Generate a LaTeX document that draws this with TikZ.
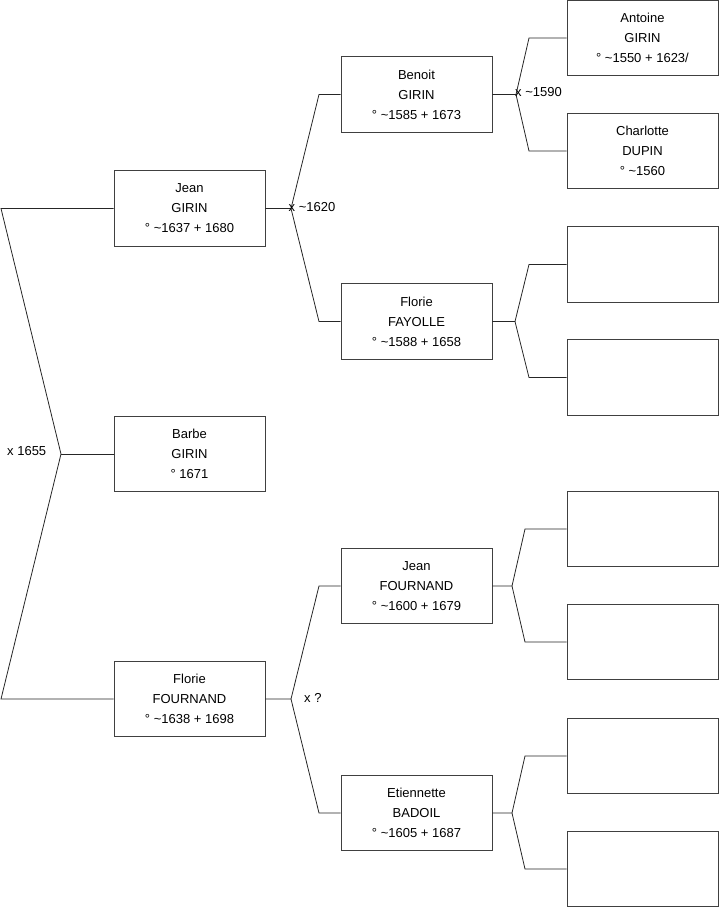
\documentclass[tikz,border=0pt]{standalone}
\usepackage{fontspec}
\setmainfont{Liberation Sans}
\begin{document}
\begin{tikzpicture}[x=1pt,y=-1pt,
  box/.style={draw=black!75,line width=0.8pt,fill=white,minimum width=151pt,minimum height=75.5pt,inner sep=0pt,align=center,font=\fontsize{13}{20}\selectfont},
  conn/.style={draw=black!85,line width=0.8pt},
  lbl/.style={anchor=west,inner sep=0pt,font=\fontsize{13}{15}\selectfont}]
\useasboundingbox (0,0) rectangle (719,908);
% column 1
\node[box] (jg) at (189.5,208.5) {Jean\\GIRIN\\° \textasciitilde1637 + 1680};
\node[box] (bg) at (189.5,454) {Barbe\\GIRIN\\° 1671};
\node[box] (ff) at (189.5,699) {Florie\\FOURNAND\\° \textasciitilde1638 + 1698};
% column 2
\node[box] (be) at (416.5,94.5) {Benoit\\GIRIN\\° \textasciitilde1585 + 1673};
\node[box] (fy) at (416.5,321.5) {Florie\\FAYOLLE\\° \textasciitilde1588 + 1658};
\node[box] (jf) at (416.5,586) {Jean\\FOURNAND\\° \textasciitilde1600 + 1679};
\node[box] (eb) at (416.5,813) {Etiennette\\BADOIL\\° \textasciitilde1605 + 1687};
% column 3
\node[box] (ag) at (642.5,38) {Antoine\\GIRIN\\° \textasciitilde1550 + 1623/};
\node[box] (cd) at (642.5,151) {Charlotte\\DUPIN\\° \textasciitilde1560};
\node[box] (e1) at (642.5,264.5) {};
\node[box] (e2) at (642.5,377.5) {};
\node[box] (e3) at (642.5,529) {};
\node[box] (e4) at (642.5,642) {};
\node[box] (e5) at (642.5,756) {};
\node[box] (e6) at (642.5,869) {};
% coordinates
\coordinate (l1) at (1,208.5);
\coordinate (l0) at (61,454);
\coordinate (l2) at (1,699);
\coordinate (f1) at (291,208.5);
\coordinate (f1a) at (319,94.5);
\coordinate (f1b) at (319,321.5);
\coordinate (f2) at (291,699);
\coordinate (f2a) at (319,586);
\coordinate (f2b) at (319,813);
\coordinate (g1) at (516,94.5);
\coordinate (g1a) at (529,38);
\coordinate (g1b) at (529,151);
\coordinate (g2) at (515,321.5);
\coordinate (g2a) at (529,264.5);
\coordinate (g2b) at (529,377.5);
\coordinate (g3) at (512,586);
\coordinate (g3a) at (525,529);
\coordinate (g3b) at (525,642);
\coordinate (g4) at (512,813);
\coordinate (g4a) at (525,756);
\coordinate (g4b) at (525,869);
% connectors
\draw[conn] (jg.west) -- (l1) -- (l0) -- (l2) -- (ff.west);
\draw[conn] (l0) -- (bg.west);
\draw[conn] (jg.east) -- (f1) -- (f1a) -- (be.west);
\draw[conn] (f1) -- (f1b) -- (fy.west);
\draw[conn] (ff.east) -- (f2) -- (f2a) -- (jf.west);
\draw[conn] (f2) -- (f2b) -- (eb.west);
\draw[conn] (be.east) -- (g1) -- (g1a) -- (ag.west);
\draw[conn] (g1) -- (g1b) -- (cd.west);
\draw[conn] (fy.east) -- (g2) -- (g2a) -- (e1.west);
\draw[conn] (g2) -- (g2b) -- (e2.west);
\draw[conn] (jf.east) -- (g3) -- (g3a) -- (e3.west);
\draw[conn] (g3) -- (g3b) -- (e4.west);
\draw[conn] (eb.east) -- (g4) -- (g4a) -- (e5.west);
\draw[conn] (g4) -- (g4b) -- (e6.west);
% labels
\node[lbl] (x1655) at (7,451.5) {x 1655};
\node[lbl] (x1620) at (288.5,207) {x \textasciitilde1620};
\node[lbl] (x1590) at (515,92.5) {x \textasciitilde1590};
\node[lbl] (xq) at (304,697.5) {x ?};
\end{tikzpicture}
\end{document}
